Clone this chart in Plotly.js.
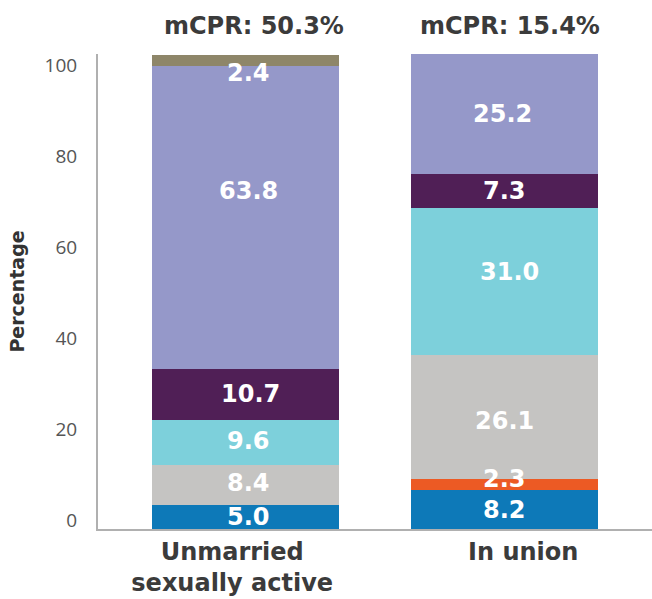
<!DOCTYPE html>
<html><head><meta charset="utf-8">
<script src="https://cdn.plot.ly/plotly-3.0.1.min.js"></script>
<style>html,body{margin:0;padding:0;background:#fff}#chart{width:652px;height:599px}</style>
</head><body><div id="chart"></div>
<script>
const categories = ["Unmarried<br>sexually active", "In union"];
const mcpr = ["mCPR: 50.3%", "mCPR: 15.4%"];
const yTicks = [0, 20, 40, 60, 80, 100];
const seriesNames = ["Series 1", "Series 2", "Series 3", "Series 4", "Series 5", "Series 6", "Series 7"];
const seriesColors = ["#0d79b8", "#ec5a24", "#c5c4c2", "#7dd0db", "#501f56", "#9598c9", "#8e8669"];
const unmarried = [5.0, null, 8.4, 9.6, 10.7, 63.8, 2.4];
const inUnion = [8.2, 2.3, 26.1, 31.0, 7.3, 25.2, null];
// label pixel nudges (style only)
const labelShift = [[0, 0, 2, 2, 0, 27, -12], [0, 6, -4, 10, 0, 0, 0]];
const labelXShift = [[3, 0, 3, 3, 5, 3, 3], [0, 0, 0, 5, 0, -2, 0]];
const catTickPos = [-0.05, 1.071];
const mcprXShift = [9, 5];

const BOLD = "'DejaVu Sans', sans-serif";
const LIGHT = "'Open Sans', sans-serif";
const traces = seriesNames.map((n, i) => ({
  type: 'bar', name: n, x: [0, 1], y: [unmarried[i], inUnion[i]],
  marker: {color: seriesColors[i]}, width: 0.72, hoverinfo: 'skip'
}));
traces.push({type: 'scatter', x: [0], y: [0], xaxis: 'x', yaxis: 'y2', mode: 'markers',
  marker: {opacity: 0}, hoverinfo: 'skip', showlegend: false});

const annotations = [];
[unmarried, inUnion].forEach((vals, ci) => {
  let cum = 0;
  vals.forEach((v, si) => {
    if (v === null) return;
    annotations.push({x: ci, y: cum + v / 2, xref: 'x', yref: 'y', text: v.toFixed(1),
      showarrow: false, yshift: labelShift[ci][si], xshift: labelXShift[ci][si],
      font: {family: BOLD, size: 24, color: '#ffffff', weight: 'bold'}});
    cum += v;
  });
  annotations.push({x: ci, y: 1, xref: 'x', yref: 'paper', yanchor: 'bottom', yshift: 12,
    xshift: mcprXShift[ci], text: mcpr[ci], showarrow: false,
    font: {family: BOLD, size: 24, color: '#3b3b3b', weight: 'bold'}});
});

const layout = {
  width: 652, height: 599,
  margin: {l: 98, r: 0, t: 54, b: 70},
  barmode: 'stack', showlegend: false,
  paper_bgcolor: '#fff', plot_bgcolor: '#fff',
  xaxis: {range: [-0.567, 1.567], tickvals: catTickPos, ticktext: categories,
    showline: true, linecolor: '#b0b0b0', linewidth: 2, showgrid: false, zeroline: false,
    ticks: '', tickfont: {family: BOLD, size: 24, color: '#3b3b3b', weight: 'bold'}},
  yaxis: {range: [0, 100.1], showticklabels: false,
    showline: true, linecolor: '#b0b0b0', linewidth: 2, showgrid: false, zeroline: false,
    ticks: '',
    title: {text: 'Percentage', standoff: 66, font: {family: BOLD, size: 19, color: '#333333', weight: 'bold'}}},
  yaxis2: {overlaying: 'y', side: 'left', range: [-1.98, 102.42], tickvals: yTicks,
    showline: false, showgrid: false, zeroline: false,
    ticks: 'outside', ticklen: 16, tickcolor: 'rgba(0,0,0,0)',
    tickfont: {family: LIGHT, size: 19, color: '#555555'}},
  annotations: annotations
};
Plotly.newPlot('chart', traces, layout, {displayModeBar: false});
</script></body></html>
